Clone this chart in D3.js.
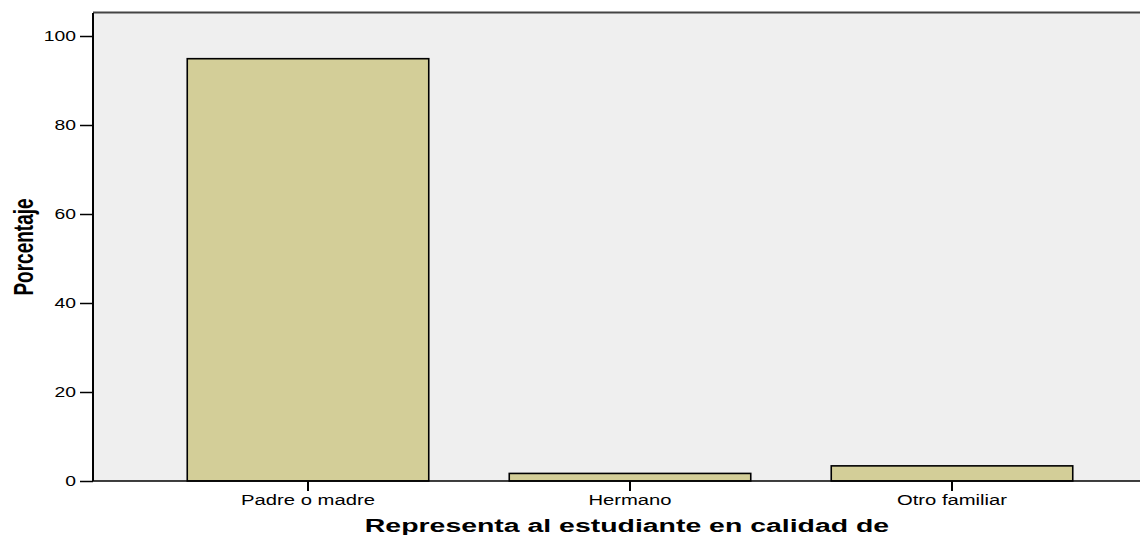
<!DOCTYPE html>
<html>
<head>
<meta charset="utf-8">
<script src="https://cdn.jsdelivr.net/npm/d3@7"></script>
<style>
  body { margin: 0; background: #fff; }
  text { font-family: "Liberation Sans", Arial, sans-serif; fill: #000; }
</style>
</head>
<body>
<div id="vis"></div>
<script>
const categories = ["Padre o madre", "Hermano", "Otro familiar"];
const percentages = [94.9, 1.7, 3.4];
const yTicks = [0, 20, 40, 60, 80, 100];

const W = 1140, H = 535;
const plot = { left: 93, top: 13, right: 1167, bottom: 481 };

const svg = d3.select("#vis")
  .append("svg")
  .attr("width", W)
  .attr("height", H);

const x = d3.scaleBand()
  .domain(categories)
  .range([plot.left, plot.right])
  .paddingInner(0.25)
  .paddingOuter(0.2927);

const y = d3.scaleLinear()
  .domain([0, 105.17])
  .range([plot.bottom, plot.top]);

// background
svg.append("rect")
  .attr("x", plot.left)
  .attr("y", plot.top)
  .attr("width", W - plot.left)
  .attr("height", plot.bottom - plot.top)
  .attr("fill", "#efefef");

// top frame line
svg.append("line")
  .attr("x1", plot.left).attr("x2", W)
  .attr("y1", plot.top - 0.5).attr("y2", plot.top - 0.5)
  .attr("stroke", "#444").attr("stroke-width", 2);

// BARS
svg.selectAll(".bar")
  .data(categories)
  .enter()
  .append("rect")
  .attr("class", "bar")
  .attr("x", d => x(d))
  .attr("y", (d, i) => y(percentages[i]))
  .attr("width", x.bandwidth())
  .attr("height", (d, i) => y(0) - y(percentages[i]))
  .attr("fill", "#d3ce98")
  .attr("stroke", "#000")
  .attr("stroke-width", 1.6);

// Y AXIS
const yAxis = svg.append("g")
  .attr("transform", `translate(${plot.left},0)`)
  .call(d3.axisLeft(y).tickValues(yTicks).tickSize(13).tickPadding(4));
yAxis.select(".domain").attr("stroke", "#000").attr("stroke-width", 2)
  .attr("d", `M0,${plot.top}V${plot.bottom}`);
yAxis.selectAll(".tick line").attr("stroke", "#000").attr("stroke-width", 1.5);
yAxis.selectAll(".tick text")
  .attr("font-size", "14px")
  .attr("font-family", "Liberation Sans, Arial, sans-serif")
  .attr("transform", function () {
    const tx = -17;
    return `translate(${tx},0) scale(1.38,1) translate(${-tx},0)`;
  });

// X AXIS
const xAxis = svg.append("g")
  .attr("transform", `translate(0,${plot.bottom})`)
  .call(d3.axisBottom(x).tickSize(10).tickPadding(0));
xAxis.select(".domain").attr("stroke", "#000").attr("stroke-width", 1.5)
  .attr("d", `M${plot.left},0H${W}`);
xAxis.selectAll(".tick line").attr("stroke", "#000").attr("stroke-width", 2);
xAxis.selectAll(".tick text")
  .attr("font-size", "15px")
  .attr("font-family", "Liberation Sans, Arial, sans-serif")
  .attr("y", 24)
  .attr("dy", 0)
  .attr("transform", "scale(1.35,1)");

// AXIS TITLES
svg.append("text")
  .attr("transform", `translate(${(x(categories[0]) + x(categories[2]) + x.bandwidth()) / 2 - 3},532) scale(1.58,1)`)
  .attr("text-anchor", "middle")
  .attr("font-size", "18px")
  .attr("font-weight", "bold")
  .text("Representa al estudiante en calidad de");

svg.append("text")
  .attr("transform", `translate(33,247) scale(1.5,1) rotate(-90)`)
  .attr("text-anchor", "middle")
  .attr("font-size", "19px")
  .attr("font-weight", "bold")
  .text("Porcentaje");
</script>
</body>
</html>
